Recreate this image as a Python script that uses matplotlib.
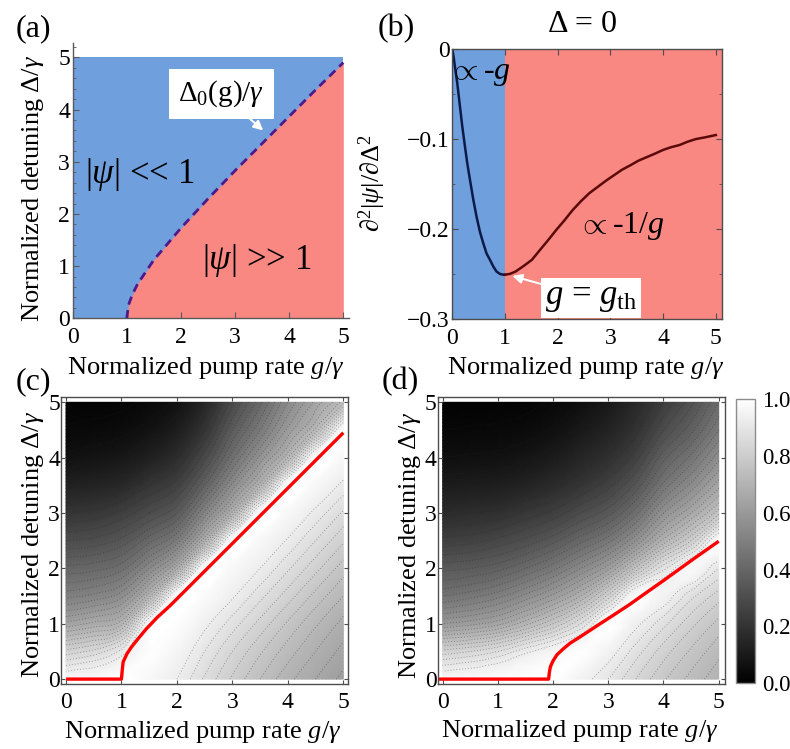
import numpy as np
import matplotlib
matplotlib.use("Agg")
import matplotlib.pyplot as plt
import matplotlib.tri as mtri
from matplotlib.ticker import MultipleLocator, FixedLocator, FixedFormatter
from matplotlib.cm import ScalarMappable
from matplotlib.colors import Normalize

plt.rcParams["font.family"] = ["Liberation Serif", "DejaVu Serif"]
plt.rcParams["mathtext.fontset"] = "custom"
plt.rcParams["mathtext.rm"] = "Liberation Serif"
plt.rcParams["mathtext.it"] = "Liberation Serif:italic"
plt.rcParams["mathtext.bf"] = "Liberation Serif:bold"

# (a) boundary Delta_0(g)/gamma between the two regimes
g_boundary = [1.0, 1.03, 1.1, 1.2, 1.5, 2.0, 2.5, 3.0, 3.5, 4.0, 4.5, 5.0]
d_boundary = [0.0, 0.25, 0.45, 0.66, 1.12, 1.73, 2.29, 2.83, 3.35, 3.87, 4.39, 4.90]

# (b) curvature at Delta = 0
g_below = [0.0, 0.025, 0.05, 0.095, 0.146, 0.19, 0.24, 0.285, 0.335, 0.40, 0.46,
           0.525, 0.59, 0.65, 0.715, 0.78, 0.84, 0.905, 0.97, 1.0]
curv_below = [0.0, -0.0085, -0.0196, -0.038, -0.064, -0.086, -0.108, -0.127, -0.145,
              -0.1676, -0.186, -0.203, -0.216, -0.227, -0.234, -0.2416, -0.247, -0.2497,
              -0.2505, -0.2505]
g_above = [1.0, 1.1, 1.2, 1.35, 1.51, 1.65, 1.82, 1.97, 2.13, 2.28, 2.44, 2.6, 2.76,
           2.92, 3.07, 3.22, 3.38, 3.53, 3.69, 3.85, 4.0, 4.15, 4.31, 4.46, 4.62, 4.8, 5.0]
curv_above = [-0.2505, -0.2495, -0.247, -0.241, -0.234, -0.224, -0.212, -0.201, -0.190,
              -0.179, -0.169, -0.160, -0.153, -0.146, -0.140, -0.134, -0.129, -0.124,
              -0.120, -0.116, -0.112, -0.109, -0.1066, -0.103, -0.100, -0.098, -0.0955]

# (c), (d) normalized |psi| on a coarse grid, one list per g column (Delta = 0 .. 5)
g_grid = [0.0, 0.5, 1.0, 1.5, 2.0, 2.5, 3.0, 3.5, 4.0, 4.5, 5.0]
d_grid = [0.0, 0.5, 1.0, 1.5, 2.0, 2.5, 3.0, 3.5, 4.0, 4.5, 5.0]
intensity_c = [
    [0.97, 0.82, 0.64, 0.50, 0.40, 0.30, 0.21, 0.13, 0.070, 0.035, 0.015],
    [0.98, 0.85, 0.67, 0.52, 0.41, 0.31, 0.22, 0.14, 0.080, 0.040, 0.018],
    [1.00, 0.91, 0.71, 0.56, 0.44, 0.34, 0.25, 0.16, 0.095, 0.050, 0.022],
    [0.97, 0.99, 0.97, 0.71, 0.54, 0.41, 0.30, 0.21, 0.130, 0.075, 0.040],
    [0.93, 0.96, 0.99, 0.99, 0.68, 0.49, 0.36, 0.26, 0.180, 0.120, 0.070],
    [0.865, 0.90, 0.94, 0.98, 0.99, 0.69, 0.52, 0.39, 0.29, 0.21, 0.15],
    [0.805, 0.84, 0.885, 0.935, 0.97, 0.99, 0.70, 0.55, 0.44, 0.36, 0.29],
    [0.75, 0.785, 0.83, 0.88, 0.93, 0.97, 0.99, 0.71, 0.58, 0.48, 0.41],
    [0.70, 0.735, 0.775, 0.825, 0.875, 0.925, 0.97, 0.99, 0.72, 0.61, 0.54],
    [0.66, 0.69, 0.725, 0.77, 0.82, 0.87, 0.92, 0.97, 0.99, 0.73, 0.64],
    [0.62, 0.65, 0.68, 0.72, 0.765, 0.815, 0.865, 0.92, 0.97, 0.99, 0.74],
]
intensity_d = [
    [0.97, 0.82, 0.60, 0.45, 0.35, 0.25, 0.17, 0.110, 0.060, 0.030, 0.012],
    [0.98, 0.84, 0.62, 0.47, 0.36, 0.26, 0.18, 0.115, 0.065, 0.033, 0.014],
    [0.99, 0.87, 0.65, 0.50, 0.38, 0.28, 0.19, 0.120, 0.070, 0.036, 0.016],
    [1.00, 0.92, 0.71, 0.55, 0.42, 0.31, 0.22, 0.140, 0.085, 0.045, 0.020],
    [1.00, 0.96, 0.78, 0.61, 0.47, 0.35, 0.25, 0.170, 0.110, 0.065, 0.035],
    [0.95, 0.99, 0.87, 0.69, 0.54, 0.41, 0.30, 0.210, 0.150, 0.100, 0.060],
    [0.90, 0.95, 0.99, 0.82, 0.62, 0.47, 0.35, 0.260, 0.190, 0.140, 0.100],
    [0.84, 0.885, 0.94, 0.98, 0.76, 0.57, 0.44, 0.340, 0.260, 0.200, 0.160],
    [0.785, 0.825, 0.88, 0.95, 0.89, 0.70, 0.57, 0.460, 0.380, 0.300, 0.240],
    [0.74, 0.775, 0.82, 0.88, 0.97, 0.81, 0.66, 0.550, 0.460, 0.380, 0.320],
    [0.70, 0.73, 0.77, 0.825, 0.90, 0.98, 0.77, 0.650, 0.560, 0.480, 0.420],
]

# red threshold lines in (c), (d)
g_red_c = [0.0, 1.0, 1.01, 1.03, 1.1, 1.18, 1.3, 1.45, 1.65, 1.88, 2.5, 3.0, 3.5, 4.0, 4.5, 5.0]
d_red_c = [0.0, 0.0, 0.12, 0.31, 0.46, 0.58, 0.73, 0.91, 1.12, 1.33, 1.95, 2.45, 2.95, 3.45, 3.95, 4.45]
g_red_d = [-0.08, 1.92, 1.93, 1.95, 2.0, 2.07, 2.2, 2.31, 2.5, 2.79, 3.1, 3.39, 3.7, 4.0, 4.5, 5.0]
d_red_d = [0.0, 0.0, 0.1, 0.22, 0.33, 0.44, 0.56, 0.65, 0.77, 0.96, 1.16, 1.35, 1.57, 1.78, 2.14, 2.49]

ticks_int = [0, 1, 2, 3, 4, 5]
cbar_ticks = [0.0, 0.2, 0.4, 0.6, 0.8, 1.0]

BLUE = "#6f9fdd"
PINK = "#f98782"
W, H = 790, 749
TICK_FS = 17
LABEL_FS = 19


def fpos(x, y):
    return x / W, 1 - y / H


fig = plt.figure(figsize=(W / 100, H / 100), dpi=100)

# ---------------- (a) ----------------
ax_a = fig.add_axes([0.0920, 0.575, 0.3494, 0.3672])
ax_a.fill_between([0, 5], 0, 5, color=BLUE, lw=0)
ax_a.fill_between(g_boundary, 0, d_boundary, color=PINK, lw=0)
ax_a.plot(g_boundary, d_boundary, color="#4b1a8c", lw=2.0, ls=(0, (3, 2)))
ax_a.set_xlim(0, 5.1)
ax_a.set_ylim(0, 5.27)
ax_a.spines["top"].set_visible(False)
ax_a.spines["right"].set_visible(False)
for s in ("left", "bottom"):
    ax_a.spines[s].set_color("0.35")
    ax_a.spines[s].set_linewidth(1.0)
ax_a.xaxis.set_major_locator(FixedLocator(ticks_int))
ax_a.yaxis.set_major_locator(FixedLocator(ticks_int))
ax_a.yaxis.set_minor_locator(MultipleLocator(0.2))
ax_a.tick_params(which="major", direction="in", length=4, color="0.35", labelsize=TICK_FS)
ax_a.tick_params(which="minor", direction="in", length=2, color="0.35")
ax_a.tick_params(axis="x", pad=6)
ax_a.tick_params(axis="y", pad=2)
ax_a.text(0.23, 2.75, r"$|\psi|$ << 1", fontsize=25, ha="left", va="center")
ax_a.text(3.4, 1.1, r"$|\psi|$ >> 1", fontsize=25, ha="center", va="center")
ax_a.annotate(r"$\Delta_0(\mathrm{g})/\gamma$", xy=(3.52, 3.60), xytext=(2.75, 4.3),
              fontsize=21, ha="center", va="center",
              bbox=dict(boxstyle="square,pad=0.32", fc="white", ec="none"),
              arrowprops=dict(arrowstyle="-|>", color="white", lw=1.5,
                              shrinkA=0, shrinkB=0, mutation_scale=14))

# ---------------- (b) ----------------
ax_b = fig.add_axes([0.5725, 0.5737, 0.3410, 0.3609])
ax_b.axvspan(0, 1, color=BLUE, lw=0)
ax_b.axvspan(1, 5.2, color=PINK, lw=0)
ax_b.plot(g_below, curv_below, color="#0b1a48", lw=1.8)
ax_b.plot(g_above, curv_above, color="#5a0a0a", lw=1.8)
ax_b.set_xlim(0, 5.11)
ax_b.set_ylim(-0.3, 0)
for s in ax_b.spines.values():
    s.set_color("0.3")
    s.set_linewidth(1.0)
ax_b.xaxis.set_major_locator(FixedLocator(ticks_int))
ax_b.yaxis.set_major_locator(FixedLocator([-0.3, -0.2, -0.1, 0.0]))
ax_b.yaxis.set_major_formatter(FixedFormatter(["\u22120.3", "\u22120.2", "\u22120.1", "0"]))
ax_b.yaxis.set_minor_locator(MultipleLocator(0.05))
ax_b.tick_params(which="both", direction="in", top=True, right=True, color="0.3")
ax_b.tick_params(which="major", length=4, labelsize=TICK_FS)
ax_b.tick_params(which="minor", length=2.5)
ax_b.tick_params(axis="x", pad=6)
ax_b.tick_params(axis="y", pad=2)
ax_b.text(0.52, -0.027, r"$\propto$-$g$", fontsize=23, ha="center", va="center")
ax_b.text(3.2, -0.196, r"$\propto$-1/$g$", fontsize=23, ha="center", va="center")
ax_b.annotate(r"$g$ = $g_{\rm th}$", xy=(1.14, -0.252), xytext=(2.63, -0.276),
              fontsize=25, ha="center", va="center",
              bbox=dict(boxstyle="square,pad=0.1", fc="white", ec="none"),
              arrowprops=dict(arrowstyle="-|>", color="white", lw=1.5,
                              shrinkA=0, shrinkB=0, mutation_scale=14))


# ---------------- (c), (d) ----------------
def grid_triangulation():
    gg, dd = np.meshgrid(g_grid, d_grid)
    n = len(g_grid)
    tris = []
    for j in range(len(d_grid) - 1):
        for i in range(n - 1):
            a, b = j * n + i, j * n + i + 1
            c, d = (j + 1) * n + i + 1, (j + 1) * n + i
            # split each cell along the rising diagonal, the same way the ridge runs
            tris += [[a, b, c], [a, c, d]]
    return mtri.Triangulation(gg.ravel(), dd.ravel(), triangles=tris)


def density_panel(ax, cols, g_red, d_red, xlim):
    zz = np.array(cols).T.ravel()
    tri = grid_triangulation()
    interp = mtri.CubicTriInterpolator(tri, zz, kind="geom")
    tri_f, z_f = mtri.UniformTriRefiner(tri).refine_field(zz, triinterpolator=interp, subdiv=3)
    ax.tripcolor(tri_f, np.clip(z_f, 0, 1), shading="gouraud", cmap="gray", vmin=0, vmax=1)
    ax.tricontour(tri_f, z_f, levels=np.arange(0.03, 0.93, 0.03), colors="0.15",
                  linestyles=[(0, (1, 2.5))], linewidths=0.6, alpha=0.5)
    ax.plot(g_red, d_red, color="#ff0000", lw=2.4, solid_capstyle="butt")
    ax.set_xlim(*xlim)
    ax.set_ylim(-0.08, 5.087)
    for s in ax.spines.values():
        s.set_color("0.3")
        s.set_linewidth(1.0)
    ax.xaxis.set_major_locator(FixedLocator(ticks_int))
    ax.yaxis.set_major_locator(FixedLocator(ticks_int))
    ax.tick_params(direction="in", length=3, color="0.3", labelsize=TICK_FS,
                   top=True, right=True)
    ax.tick_params(axis="x", pad=6)
    ax.tick_params(axis="y", pad=1)


ax_c = fig.add_axes([0.0776, 0.0874, 0.3623, 0.3819])
density_panel(ax_c, intensity_c, g_red_c, d_red_c, (-0.085, 5.076))
ax_d = fig.add_axes([0.5544, 0.0874, 0.3633, 0.3819])
density_panel(ax_d, intensity_d, g_red_d, d_red_d, (-0.085, 5.114))

cax = fig.add_axes([0.9316, 0.0877, 0.0244, 0.3796])
cb = fig.colorbar(ScalarMappable(norm=Normalize(0, 1), cmap="gray"), cax=cax)
cb.set_ticks(cbar_ticks)
cb.set_ticklabels([f"{t:.1f}" for t in cbar_ticks])
cb.outline.set_edgecolor("0.55")
cb.outline.set_linewidth(1.0)
cax.tick_params(length=0, labelsize=16.5, pad=5)

# ---------------- labels ----------------
xlab = r"Normalized pump rate $g/\gamma$"
ylab = r"Normalized detuning $\Delta/\gamma$"
fig.text(*fpos(206, 368), xlab, fontsize=LABEL_FS, ha="center", va="center")
fig.text(*fpos(586, 368), xlab, fontsize=LABEL_FS, ha="center", va="center")
fig.text(*fpos(203, 732), xlab, fontsize=LABEL_FS, ha="center", va="center")
fig.text(*fpos(580, 731), xlab, fontsize=LABEL_FS, ha="center", va="center")
fig.text(*fpos(33, 188), ylab, fontsize=LABEL_FS, ha="center", va="center", rotation=90)
fig.text(*fpos(33, 544), ylab, fontsize=LABEL_FS, ha="center", va="center", rotation=90)
fig.text(*fpos(410, 545), ylab, fontsize=LABEL_FS, ha="center", va="center", rotation=90)
fig.text(*fpos(372, 183), r"$\partial^2|\psi|/\partial\Delta^2$", fontsize=LABEL_FS,
         ha="center", va="center", rotation=90)
fig.text(*fpos(583, 24), "\u0394 = 0", fontsize=23, ha="center", va="center")

for lab, (x, y) in {"(a)": (33, 29), "(b)": (396, 29), "(c)": (33, 382), "(d)": (400, 382)}.items():
    fig.text(*fpos(x, y), lab, fontsize=23, ha="center", va="center")

fig.savefig("out.png", dpi=100, facecolor="white")
